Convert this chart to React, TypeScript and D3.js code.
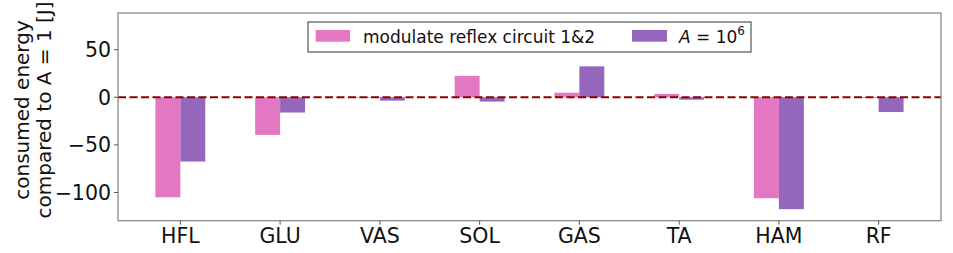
import React from "react";
import * as d3 from "d3";

const categories = ["HFL", "GLU", "VAS", "SOL", "GAS", "TA", "HAM", "RF"];
const modulateValues = [-105, -39.5, -0.6, 22.5, 4.8, 3.5, -106, -0.8];
const a106Values = [-67.5, -16, -3.5, -4.5, 32.5, -2.5, -117.5, -15.5];
const yTicks = [50, 0, -50, -100];

const W = 953;
const H = 253;
const left = 118;
const right = 941;
const top = 13;
const bottom = 220.7;
const FONT = "DejaVu Sans, sans-serif";
const PINK = "#e377c2";
const PURPLE = "#9467bd";

export default function App() {
  const x = d3.scaleLinear().domain([-0.625, 7.625]).range([left, right]);
  const y = d3.scaleLinear().domain([-129.6, 88.5]).range([bottom, top]);
  const bw = x(0.25) - x(0);
  const bars: JSX.Element[] = [];
  categories.forEach((c, i) => {
    const v1 = modulateValues[i];
    const v2 = a106Values[i];
    bars.push(
      <rect key={c + "a"} x={x(i - 0.25)} width={bw} y={y(Math.max(0, v1))} height={Math.abs(y(v1) - y(0))} fill={PINK} />
    );
    bars.push(
      <rect key={c + "b"} x={x(i)} width={bw} y={y(Math.max(0, v2))} height={Math.abs(y(v2) - y(0))} fill={PURPLE} />
    );
  });
  return (
    <div style={{ position: "absolute", left: 0, top: 0 }}>
      <svg width={W} height={H} style={{ display: "block", background: "#fff" }} fontFamily={FONT}>
        <rect x={0} y={0} width={W} height={H} fill="#fff" />
        {bars}
        <line x1={left} x2={right} y1={y(0)} y2={y(0)} stroke="#8b0000" strokeWidth={2} strokeDasharray="8,3.5" />
        <rect x={left} y={top} width={right - left} height={bottom - top} fill="none" stroke="#808080" strokeWidth={1.2} />
        {yTicks.map((t) => (
          <g key={t}>
            <line x1={left - 4} x2={left} y1={y(t)} y2={y(t)} stroke="#555" strokeWidth={1} />
            <text x={left - 7} y={y(t)} dy="0.36em" textAnchor="end" fontSize={20.5} fill="#111">
              {t < 0 ? "\u2212" + Math.abs(t) : String(t)}
            </text>
          </g>
        ))}
        {categories.map((c, i) => (
          <g key={c}>
            <line x1={x(i)} x2={x(i)} y1={bottom} y2={bottom + 4} stroke="#555" strokeWidth={1} />
            <text x={x(i)} y={242.5} textAnchor="middle" fontSize={20.5} fill="#111">
              {c}
            </text>
          </g>
        ))}
        <g transform={`translate(29,110) rotate(-90)`}>
          <text x={0} y={0} textAnchor="middle" fontSize={20} fill="#111">consumed energy</text>
          <text x={0} y={22} textAnchor="middle" fontSize={20} fill="#111">compared to A = 1 [J]</text>
        </g>
        <rect x={308} y={22} width={443} height={30} fill="#fff" stroke="#333" strokeWidth={1} />
        <rect x={315.7} y={30} width={34.3} height={11.7} fill={PINK} />
        <text x={363} y={42.5} fontSize={17} fill="#111">modulate reflex circuit 1&amp;2</text>
        <rect x={632} y={30} width={35} height={11.7} fill={PURPLE} />
        <text x={679} y={42.5} fontSize={17} fill="#111">
          <tspan fontStyle="italic">A</tspan>
          <tspan> = 10</tspan>
          <tspan fontSize={12} dy={-8}>6</tspan>
        </text>
      </svg>
    </div>
  );
}
